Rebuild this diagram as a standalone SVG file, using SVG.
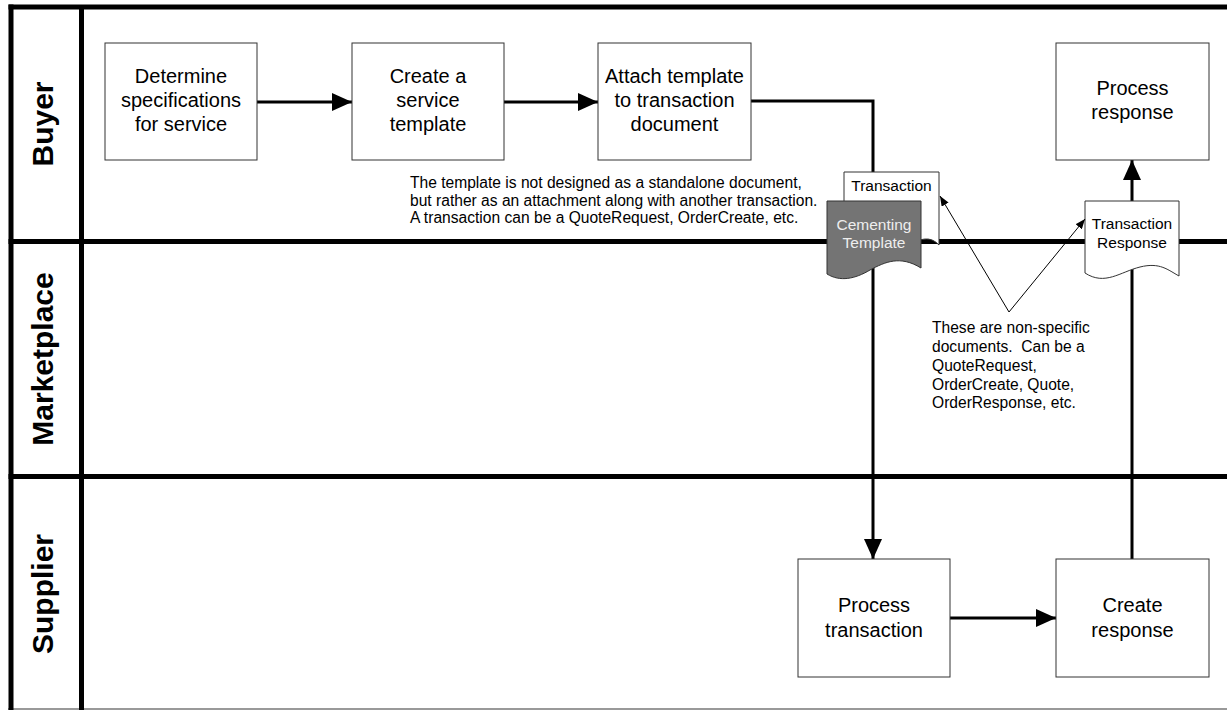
<svg xmlns="http://www.w3.org/2000/svg" width="1227" height="710" viewBox="0 0 1227 710">
<style>
text{font-family:"Liberation Sans",Arial,sans-serif;fill:#000}
.lane{stroke:#000;stroke-width:5;fill:none}
.lbl{font-weight:bold;font-size:30px}
.box{fill:#fff;stroke:#333;stroke-width:1}
.bt{font-size:20px;text-anchor:middle}
.nt{font-size:15.6px}
.dt{font-size:15.5px;text-anchor:middle}
.con{stroke:#000;stroke-width:3;fill:none}
.thin{stroke:#000;stroke-width:1;fill:none}
.doc{fill:#fff;stroke:#333;stroke-width:1}
</style>
<defs>
<marker id="ah" markerUnits="userSpaceOnUse" markerWidth="20" markerHeight="18" refX="20" refY="9" orient="auto"><path d="M0,0 L20,9 L0,18 z" fill="#000"/></marker>
<marker id="sa" markerUnits="userSpaceOnUse" markerWidth="10" markerHeight="8" refX="10" refY="4" orient="auto"><path d="M0,0 L10,4 L0,8 z" fill="#000"/></marker>
</defs>
<rect width="1227" height="710" fill="#fff"/>
<g id="lanes">
<line x1="8" y1="709" x2="1227" y2="709" stroke="#777" stroke-width="1.5"/>
<line class="lane" x1="8.5" y1="7" x2="1227" y2="7"/>
<line class="lane" x1="11" y1="4.5" x2="11" y2="710"/>
<line class="lane" x1="81.5" y1="7" x2="81.5" y2="710"/>
<line class="lane" x1="8.5" y1="241.5" x2="1227" y2="241.5"/>
<line class="lane" x1="8.5" y1="476.5" x2="1227" y2="476.5"/>
<text class="lbl" text-anchor="middle" transform="translate(53,124) rotate(-90)">Buyer</text>
<text class="lbl" text-anchor="middle" transform="translate(53,359) rotate(-90)">Marketplace</text>
<text class="lbl" text-anchor="middle" transform="translate(53,594) rotate(-90)">Supplier</text>
</g>
<g id="connectors">
<line class="con" x1="257" y1="102" x2="352" y2="102" marker-end="url(#ah)"/>
<line class="con" x1="504" y1="102" x2="598" y2="102" marker-end="url(#ah)"/>
<polyline class="con" points="751,101 873,101 873,559" marker-end="url(#ah)"/>
<line class="con" x1="950" y1="618" x2="1056" y2="618" marker-end="url(#ah)"/>
<line class="con" x1="1132" y1="559" x2="1132" y2="160" marker-end="url(#ah)"/>
</g>
<g id="determine">
<rect class="box" x="105" y="43" width="152" height="117"/>
<text class="bt" x="181" y="83">Determine</text>
<text class="bt" x="181" y="107">specifications</text>
<text class="bt" x="181" y="131">for service</text>
</g>
<g id="create-template">
<rect class="box" x="352" y="43" width="152" height="117"/>
<text class="bt" x="428" y="83">Create a</text>
<text class="bt" x="428" y="107">service</text>
<text class="bt" x="428" y="131">template</text>
</g>
<g id="attach">
<rect class="box" x="598" y="43" width="153" height="117"/>
<text class="bt" x="674.5" y="83">Attach template</text>
<text class="bt" x="674.5" y="107">to transaction</text>
<text class="bt" x="674.5" y="131">document</text>
</g>
<g id="process-response">
<rect class="box" x="1056" y="43" width="153" height="117"/>
<text class="bt" x="1132.5" y="95">Process</text>
<text class="bt" x="1132.5" y="119">response</text>
</g>
<g id="process-transaction">
<rect class="box" x="798" y="559" width="152" height="118"/>
<text class="bt" x="874" y="612">Process</text>
<text class="bt" x="874" y="637">transaction</text>
</g>
<g id="create-response">
<rect class="box" x="1056" y="559" width="153" height="118"/>
<text class="bt" x="1132.5" y="612">Create</text>
<text class="bt" x="1132.5" y="637">response</text>
</g>
<g id="note-template">
<text class="nt" x="410" y="188">The template is not designed as a standalone document,</text>
<text class="nt" x="410" y="205.5">but rather as an attachment along with another transaction.</text>
<text class="nt" x="410" y="223">A transaction can be a QuoteRequest, OrderCreate, etc.</text>
</g>
<g id="transaction-doc">
<path class="doc" d="M844,172 H939 V245 C921,225 897,262 875,252 C860,246 852,240 844,245 Z"/>
<text class="dt" x="891.5" y="191">Transaction</text>
</g>
<g id="cementing-template">
<path d="M827,201 H921 V268 C900,255 885,262 870,270 C855,279 840,282 827,274 Z" fill="#747474" stroke="#333" stroke-width="1"/>
<text class="dt" x="874" y="230" style="fill:#eeeeee">Cementing</text>
<text class="dt" x="874" y="248" style="fill:#eeeeee">Template</text>
</g>
<g id="transaction-response">
<path class="doc" d="M1085,201 H1179 V276 C1168,270 1160,262 1140,267 C1120,272 1105,286 1085,273 Z"/>
<text class="dt" x="1132" y="229">Transaction</text>
<text class="dt" x="1132" y="248">Response</text>
</g>
<g id="note-documents">
<line class="thin" x1="1009" y1="312" x2="940" y2="196" marker-end="url(#sa)"/>
<line class="thin" x1="1009" y1="312" x2="1085" y2="219" marker-end="url(#sa)"/>
<text class="nt" x="932" y="333">These are non-specific</text>
<text class="nt" x="932" y="352" xml:space="preserve">documents.  Can be a</text>
<text class="nt" x="932" y="371">QuoteRequest,</text>
<text class="nt" x="932" y="389.5">OrderCreate, Quote,</text>
<text class="nt" x="932" y="408">OrderResponse, etc.</text>
</g>
</svg>
